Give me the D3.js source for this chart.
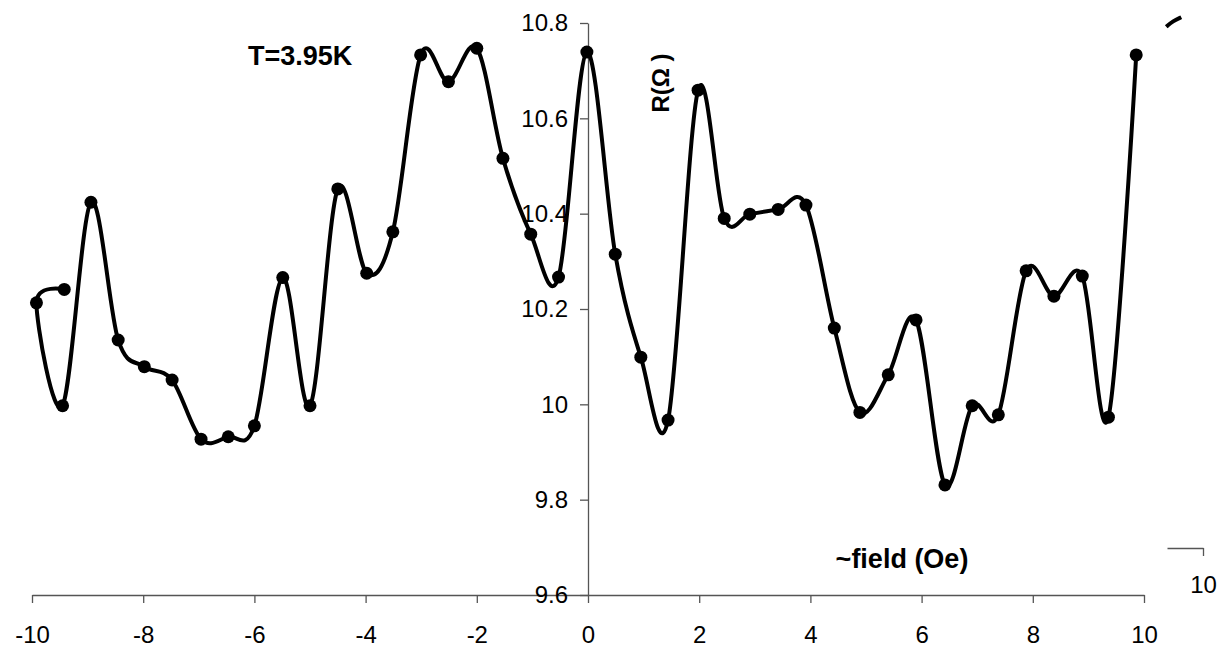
<!DOCTYPE html>
<html>
<head>
<meta charset="utf-8">
<script src="https://cdn.jsdelivr.net/npm/d3@7"></script>
<style>
  body { margin: 0; background: #fff; }
  svg { display: block; font-family: "Liberation Sans", Arial, sans-serif; }
  .axis path, .axis line { stroke: #555; stroke-width: 1.3; }
  .axis text { font-size: 24px; fill: #000; }
</style>
</head>
<body>
<div id="chart-area"></div>
<script>
// readings, in drawing order
var fieldVals = [-9.42, -9.92, -9.45, -8.94, -8.45, -7.98, -7.48, -6.96, -6.47, -6.0,
    -5.49, -5.0, -4.5, -3.98, -3.51, -3.01, -2.51, -2.0, -1.53, -1.03, -0.53, -0.02,
    0.49, 0.95, 1.44, 1.98, 2.45, 2.91, 3.42, 3.92, 4.43, 4.89, 5.40, 5.90, 6.42,
    6.91, 7.38, 7.88, 8.38, 8.89, 9.36, 9.86];
var resistVals = [10.241, 10.213, 9.997, 10.424, 10.135, 10.079, 10.051, 9.927, 9.932, 9.955,
    10.266, 9.997, 10.452, 10.275, 10.362, 10.733, 10.677, 10.747, 10.516, 10.357, 10.267, 10.739,
    10.315, 10.099, 9.967, 10.659, 10.390, 10.399, 10.409, 10.418, 10.160, 9.983, 10.062, 10.177, 9.831,
    9.997, 9.978, 10.280, 10.227, 10.269, 9.973, 10.733];

// stray bit of a curve that sits past the frame, top right
var strayX = [10.40, 10.52, 10.67];
var strayY = [10.792, 10.804, 10.812];

var xTicks = [-10, -8, -6, -4, -2, 0, 2, 4, 6, 8, 10];
var yTicks = [9.6, 9.8, 10, 10.2, 10.4, 10.6, 10.8];
var extraTicks = [10];

var W = 1217, H = 649;

var svg = d3.select("#chart-area")
    .append("svg")
    .attr("width", W)
    .attr("height", H);

var x = d3.scaleLinear().domain([-10, 10]).range([32, 1144]);
var y = d3.scaleLinear().domain([9.6, 10.8]).range([595, 23]);

// x axis
svg.append("g")
    .attr("class", "axis")
    .attr("transform", "translate(0," + y(9.6) + ")")
    .call(d3.axisBottom(x)
        .tickValues(xTicks)
        .tickSize(8)
        .tickSizeOuter(0)
        .tickPadding(23)
        .tickFormat(function (d) { return String(d); }));

// y axis, sits on x = 0
svg.append("g")
    .attr("class", "axis")
    .attr("transform", "translate(" + x(0) + ",0)")
    .call(d3.axisLeft(y)
        .tickValues(yTicks)
        .tickSize(8)
        .tickSizeOuter(0)
        .tickPadding(12)
        .tickFormat(function (d) { return String(+d.toFixed(1)); }));

// the little leftover axis on the right
var xs = d3.scaleLinear().domain([9, 10]).range([1167, 1203]);
svg.append("g")
    .attr("class", "axis")
    .attr("transform", "translate(0,548)")
    .call(d3.axisBottom(xs)
        .tickValues(extraTicks)
        .tickSize(8)
        .tickSizeOuter(0)
        .tickPadding(20)
        .tickFormat(function (d) { return String(d); }));

var pts = fieldVals.map(function (d, i) { return [d, resistVals[i]]; });

var line = d3.line()
    .x(function (d) { return x(d[0]); })
    .y(function (d) { return y(d[1]); })
    .curve(d3.curveCatmullRom.alpha(0));

svg.append("path")
    .datum(pts)
    .attr("fill", "none")
    .attr("stroke", "#000")
    .attr("stroke-width", 4)
    .attr("stroke-linejoin", "round")
    .attr("d", line);

svg.selectAll("circle.pt")
    .data(pts)
    .enter()
    .append("circle")
    .attr("class", "pt")
    .attr("cx", function (d) { return x(d[0]); })
    .attr("cy", function (d) { return y(d[1]); })
    .attr("r", 6.5)
    .attr("fill", "#000");

svg.append("path")
    .datum(strayX.map(function (d, i) { return [d, strayY[i]]; }))
    .attr("fill", "none")
    .attr("stroke", "#000")
    .attr("stroke-width", 4)
    .attr("d", d3.line()
        .x(function (d) { return x(d[0]); })
        .y(function (d) { return y(d[1]); })
        .curve(d3.curveBasis));

// labels
svg.append("text")
    .attr("x", 248)
    .attr("y", 65)
    .attr("font-size", "27px")
    .attr("font-weight", "bold")
    .text("T=3.95K");

svg.append("text")
    .attr("x", 902)
    .attr("y", 568)
    .attr("text-anchor", "middle")
    .attr("font-size", "27px")
    .attr("font-weight", "bold")
    .text("~field (Oe)");

svg.append("text")
    .attr("transform", "translate(669,83) rotate(-90)")
    .attr("text-anchor", "middle")
    .attr("font-size", "24px")
    .attr("font-weight", "bold")
    .text("R(\u03A9 )");
</script>
</body>
</html>
